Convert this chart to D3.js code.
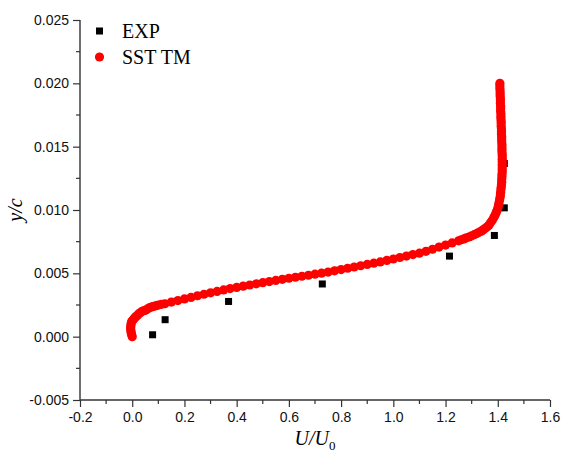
<!DOCTYPE html>
<html><head><meta charset="utf-8">
<script src="https://cdn.jsdelivr.net/npm/d3@7/dist/d3.min.js"></script>
<style>body{margin:0;background:#fff}svg{display:block}</style>
</head><body><svg id="c" width="567" height="456"></svg>
<script>
const xTicks = [-0.2,0.0,0.2,0.4,0.6,0.8,1.0,1.2,1.4,1.6];
const yTicks = [-0.005,0.000,0.005,0.010,0.015,0.020,0.025];
const seriesNames = ["EXP","SST TM"];
const expX = [0.078,0.126,0.369,0.728,1.215,1.387,1.425,1.425];
const expY = [0.00015,0.00134,0.00278,0.00416,0.00636,0.00799,0.01017,0.01367];
const sstX = [
0.000,-0.002,-0.004,-0.005,-0.006,-0.006,-0.005,-0.004,-0.002,0.002,0.006,0.010,0.015,0.020,0.026,0.032,0.038,
0.045,0.052,0.060,0.067,0.075,0.083,0.092,0.100,0.112,
0.125,0.150,0.175,0.200,0.225,0.250,0.275,0.300,0.325,0.350,0.375,0.400,0.425,0.450,0.475,0.500,
0.525,0.550,0.575,0.600,0.625,0.650,0.675,0.700,0.725,0.750,0.775,0.800,0.825,0.850,0.875,0.900,
0.925,0.950,0.975,1.000,1.025,1.050,1.075,1.100,1.125,1.150,1.175,1.200,1.225,1.250,
1.260,1.270,1.280,1.290,1.300,1.310,1.320,1.330,1.338,1.345,1.352,1.360,1.366,
1.372,1.379,1.385,1.390,1.394,1.398,1.401,1.403,1.405,1.407,1.409,1.410,1.411,1.412,1.413,1.414,
1.415,1.415,1.416,1.416,1.417,1.417,1.417,1.417,1.417,1.417,1.417,1.417,1.416,1.416,1.416,1.416,
1.415,1.415,1.415,1.414,1.414,1.414,1.413,1.413,1.413,1.412,1.412,1.412,1.411,1.411,1.411,1.410,
1.410,1.410,1.409,1.409,1.409,1.408,1.408,1.408];
const sstY = [
0.0000,0.00015,0.0003,0.00045,0.0006,0.00075,0.0009,0.00105,0.0012,0.0013,0.0014,0.0015,0.0016,0.0017,0.0018,0.0019,0.0020,
0.00205,0.0021,0.0022,0.0023,0.00235,0.0024,0.00245,0.0025,0.00255,
0.00260,0.00273,0.00285,0.00298,0.00310,0.00323,0.00335,0.00346,0.00357,0.00369,0.00380,0.00389,0.00399,0.00408,0.00417,0.00426,
0.00435,0.00444,0.00453,0.00461,0.00469,0.00477,0.00485,0.00493,0.00501,0.00510,0.00520,0.00530,0.00540,0.00550,0.00560,0.00570,
0.00580,0.00590,0.00602,0.00613,0.00625,0.00636,0.00648,0.00659,0.00674,0.00690,0.00707,0.00723,0.00740,0.00757,
0.00765,0.00772,0.00780,0.00787,0.00796,0.00805,0.00815,0.00826,0.00835,0.00845,0.00855,0.00868,0.00879,
0.0090,0.0092,0.0094,0.0096,0.0098,0.0100,0.0102,0.0104,0.0106,0.0108,0.0110,0.0112,0.0114,0.0116,0.0118,0.0120,
0.0122,0.0124,0.0126,0.0128,0.0130,0.0132,0.0134,0.0136,0.0138,0.0140,0.0142,0.0144,0.0146,0.0148,0.0150,0.0152,
0.0154,0.0156,0.0158,0.0160,0.0162,0.0164,0.0166,0.0168,0.0170,0.0172,0.0174,0.0176,0.0178,0.0180,0.0182,0.0184,
0.0186,0.0188,0.0190,0.0192,0.0194,0.0196,0.0198,0.0200];

const svg = d3.select("#c");
const x = d3.scaleLinear().domain([-0.2,1.6]).range([80,550]);
const y = d3.scaleLinear().domain([-0.005,0.025]).range([400,20]);
const axisColor = "#333";
const hy = f => (d => f(d).replace("\u2212","-"));

// minor ticks
const xMinor = d3.range(-0.2,1.6001,0.1).filter(v=>!xTicks.some(t=>Math.abs(t-v)<1e-9));
const yMinor = d3.range(-0.005,0.02501,0.0025).filter(v=>!yTicks.some(t=>Math.abs(t-v)<1e-9));

const gx = svg.append("g").attr("transform","translate(0,400)")
  .call(d3.axisBottom(x).tickValues(xTicks).tickFormat(hy(d3.format(".1f"))).tickSize(7).tickPadding(5));
gx.append("g").selectAll("line").data(xMinor).join("line")
  .attr("x1",d=>x(d)).attr("x2",d=>x(d)).attr("y1",0).attr("y2",4);
const gy = svg.append("g").attr("transform","translate(80,0)")
  .call(d3.axisLeft(y).tickValues(yTicks).tickFormat(hy(d3.format(".3f"))).tickSize(7).tickPadding(4));
gy.append("g").selectAll("line").data(yMinor).join("line")
  .attr("x1",0).attr("x2",-4).attr("y1",d=>y(d)).attr("y2",d=>y(d));
[gx,gy].forEach(g=>{
  g.select(".domain").attr("stroke",axisColor).attr("stroke-width",1.4);
  g.selectAll("line").attr("stroke",axisColor).attr("stroke-width",1.2);
  g.selectAll("text").attr("font-family","Liberation Sans, Arial, sans-serif").attr("font-size",14).attr("fill","#111");
});
gx.select(".domain").attr("d","M80,0H550");
gy.select(".domain").attr("d","M0,20V400");

// EXP squares
const sq = 7;
svg.append("g").selectAll("rect").data(expX.map((v,i)=>[v,expY[i]])).join("rect")
  .attr("x",d=>x(d[0])-sq/2).attr("y",d=>y(d[1])-sq/2).attr("width",sq).attr("height",sq).attr("fill","#000");
// SST TM circles
svg.append("g").selectAll("circle").data(sstX.map((v,i)=>[v,sstY[i]])).join("circle")
  .attr("cx",d=>x(d[0])).attr("cy",d=>y(d[1])).attr("r",4.6).attr("fill","#ff0000");

// legend
const lg = svg.append("g");
lg.append("rect").attr("x",99.5-sq/2).attr("y",31-sq/2).attr("width",sq).attr("height",sq).attr("fill","#000");
lg.append("circle").attr("cx",99.5).attr("cy",57).attr("r",4.6).attr("fill","#ff0000");
lg.selectAll("text").data(seriesNames).join("text")
  .attr("x",122).attr("y",(d,i)=>37.5+i*26).text(d=>d)
  .attr("font-family","Liberation Serif, Times New Roman, serif").attr("font-size",20).attr("fill","#000");

// axis titles
const xt = svg.append("text").attr("x",315).attr("y",445).attr("text-anchor","middle")
  .attr("font-family","Liberation Serif, Times New Roman, serif").attr("font-size",20).attr("font-style","italic");
xt.append("tspan").text("U/U");
xt.append("tspan").text("0").attr("font-size",13).attr("font-style","normal").attr("dy",5);
svg.append("text").attr("transform","translate(22,210) rotate(-90)").attr("text-anchor","middle")
  .attr("font-family","Liberation Serif, Times New Roman, serif").attr("font-size",20).attr("font-style","italic").text("y/c");
</script></body></html>
